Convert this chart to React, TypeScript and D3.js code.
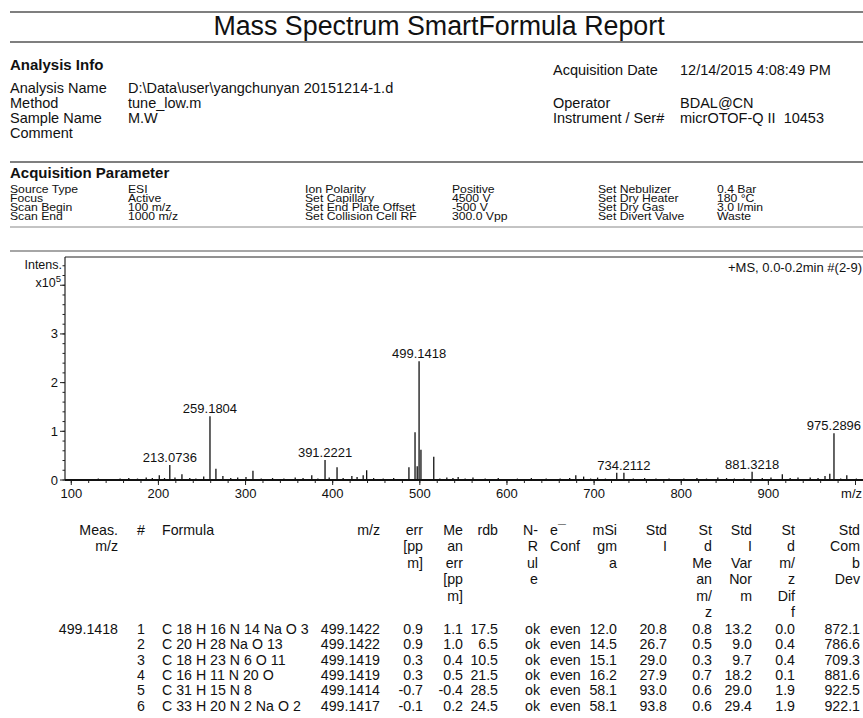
import React from "react";
import * as d3 from "d3";

// spectrum peaks (m/z, intensity in 1e5 counts)
const labelMz = [213.0736, 259.1804, 391.2221, 499.1418, 734.2112, 881.3218, 975.2896];
const labelInt = [0.31, 1.31, 0.41, 2.44, 0.15, 0.17, 0.96];

const otherMz = [201, 227, 252, 266, 274, 300.5, 308.5, 376, 405, 422, 435, 439, 487.5, 494.5, 497, 501.3, 516, 531, 544, 561, 679, 688, 704, 726, 842, 916, 965, 970.5, 990];
const otherInt = [0.1, 0.12, 0.07, 0.23, 0.08, 0.06, 0.19, 0.1, 0.26, 0.08, 0.1, 0.2, 0.26, 0.98, 0.28, 0.62, 0.48, 0.05, 0.06, 0.05, 0.1, 0.07, 0.05, 0.15, 0.05, 0.12, 0.08, 0.13, 0.1];

const noiseMz = [118, 131, 144, 156, 166, 176, 186, 193, 207, 219, 236, 243, 283, 291, 318, 331, 344, 357, 366, 383, 396, 412, 428, 447, 458, 470, 523, 538, 552, 575, 590, 612, 628, 645, 661, 672, 696, 713, 745, 758, 771, 786, 803, 818, 829, 852, 861, 872, 893, 903, 925, 934, 948, 957, 983, 1001];
const noiseInt = [0.02, 0.03, 0.02, 0.03, 0.04, 0.03, 0.05, 0.04, 0.04, 0.05, 0.04, 0.03, 0.04, 0.05, 0.03, 0.04, 0.03, 0.05, 0.04, 0.03, 0.05, 0.04, 0.06, 0.04, 0.03, 0.04, 0.03, 0.04, 0.03, 0.03, 0.04, 0.03, 0.04, 0.03, 0.03, 0.04, 0.03, 0.03, 0.03, 0.04, 0.03, 0.03, 0.03, 0.04, 0.03, 0.04, 0.03, 0.03, 0.04, 0.05, 0.04, 0.05, 0.05, 0.04, 0.03, 0.03];

const xTicks = [100, 200, 300, 400, 500, 600, 700, 800, 900];
const yTicks = [0, 1, 2, 3, 4];
const yLabels = ["0", "1", "2", "3"];

// header info
const infoLeftLabels = ["Analysis Name", "Method", "Sample Name", "Comment"];
const infoLeftValues = ["D:\\Data\\user\\yangchunyan 20151214-1.d", "tune_low.m", "M.W", ""];
const infoRightLabels = ["Acquisition Date", "Operator", "Instrument / Ser#"];
const infoRightValues = ["12/14/2015 4:08:49 PM", "BDAL@CN", "micrOTOF-Q II  10453"];

const acqCol1 = ["Source Type", "Focus", "Scan Begin", "Scan End"];
const acqVal1 = ["ESI", "Active", "100 m/z", "1000 m/z"];
const acqCol2 = ["Ion Polarity", "Set Capillary", "Set End Plate Offset", "Set Collision Cell RF"];
const acqVal2 = ["Positive", "4500 V", "-500 V", "300.0 Vpp"];
const acqCol3 = ["Set Nebulizer", "Set Dry Heater", "Set Dry Gas", "Set Divert Valve"];
const acqVal3 = ["0.4 Bar", "180 °C", "3.0 l/min", "Waste"];

// result table
const formulas = ["C 18 H 16 N 14 Na O 3", "C 20 H 28 Na O 13", "C 18 H 23 N 6 O 11", "C 16 H 11 N 20 O", "C 31 H 15 N 8", "C 33 H 20 N 2 Na O 2"];
const calcMz = ["499.1422", "499.1422", "499.1419", "499.1419", "499.1414", "499.1417"];
const errPpm = ["0.9", "0.9", "0.3", "0.3", "-0.7", "-0.1"];
const meanErr = ["1.1", "1.0", "0.4", "0.5", "-0.4", "0.2"];
const rdb = ["17.5", "6.5", "10.5", "21.5", "28.5", "24.5"];
const nRule = ["ok", "ok", "ok", "ok", "ok", "ok"];
const eConf = ["even", "even", "even", "even", "even", "even"];
const mSigma = ["12.0", "14.5", "15.1", "16.2", "58.1", "58.1"];
const stdI = ["20.8", "26.7", "29.0", "27.9", "93.0", "93.8"];
const stdMeanMz = ["0.8", "0.5", "0.3", "0.7", "0.6", "0.6"];
const stdVarNorm = ["13.2", "9.0", "9.7", "18.2", "29.0", "29.4"];
const stdMzDiff = ["0.0", "0.4", "0.4", "0.1", "1.9", "1.9"];
const stdCombDev = ["872.1", "786.6", "709.3", "881.6", "922.5", "922.1"];

const font = "Arial, 'Liberation Sans', sans-serif";

// text stretched horizontally, like the scanned report
const WideText = ({ x, y, size, sx = 1.15, anchor = "start", children }: any) => (
  <g transform={`translate(${x},${y}) scale(${sx},1)`}>
    <text fontSize={size} textAnchor={anchor}>{children}</text>
  </g>
);

const App = () => {
  const width = 863, height = 718;
  const x = d3.scaleLinear().domain([92.8, 1008.6]).range([65, 863]);
  const y = d3.scaleLinear().domain([0, 4.58]).range([480, 257]);

  const allMz = [...noiseMz, ...otherMz, ...labelMz];
  const allInt = [...noiseInt, ...otherInt, ...labelInt];
  const peaks = allMz.map((m, i) => ({ mz: m, int: allInt[i] }));

  const xMinor = d3.range(100, 1001, 20);
  const yMinor = d3.range(0, 4.5, 0.2);

  const tableHeaders = [
    { lines: ["Meas.", "m/z"], x: 118, a: "end" },
    { lines: ["#"], x: 141, a: "middle" },
    { lines: ["Formula"], x: 162, a: "start" },
    { lines: ["m/z"], x: 380, a: "end" },
    { lines: ["err", "[pp", "m]"], x: 423, a: "end" },
    { lines: ["Me", "an", "err", "[pp", "m]"], x: 463, a: "end" },
    { lines: ["rdb"], x: 498, a: "end" },
    { lines: ["N-", "R", "ul", "e"], x: 538, a: "end" },
    { lines: ["e\u00af", "Conf"], x: 550, a: "start" },
    { lines: ["mSi", "gm", "a"], x: 617, a: "end" },
    { lines: ["Std", "I"], x: 667, a: "end" },
    { lines: ["St", "d", "Me", "an", "m/", "z"], x: 712, a: "end" },
    { lines: ["Std", "I", "Var", "Nor", "m"], x: 752, a: "end" },
    { lines: ["St", "d", "m/", "z", "Dif", "f"], x: 795, a: "end" },
    { lines: ["Std", "Com", "b", "Dev"], x: 860, a: "end" },
  ];
  const tableCols = [
    { vals: formulas.map((_, i) => String(i + 1)), x: 141, a: "middle" },
    { vals: formulas, x: 162, a: "start" },
    { vals: calcMz, x: 380, a: "end" },
    { vals: errPpm, x: 423, a: "end" },
    { vals: meanErr, x: 463, a: "end" },
    { vals: rdb, x: 498, a: "end" },
    { vals: nRule, x: 540, a: "end" },
    { vals: eConf, x: 550, a: "start" },
    { vals: mSigma, x: 617, a: "end" },
    { vals: stdI, x: 667, a: "end" },
    { vals: stdMeanMz, x: 712, a: "end" },
    { vals: stdVarNorm, x: 752, a: "end" },
    { vals: stdMzDiff, x: 795, a: "end" },
    { vals: stdCombDev, x: 860, a: "end" },
  ];
  const headTop = 535, headStep = 16.4;
  const rowTop = 634, rowStep = 15.3;
  const acqTop = 192.5, acqStep = 9.2;

  return (
    <svg width={width} height={height} style={{ position: "absolute", left: 0, top: 0, background: "#fff" }} fontFamily={font} fill="#111">
      <rect width={width} height={height} fill="#fff" />
      {/* title */}
      <line x1={10} x2={863} y1={12} y2={12} stroke="#555" strokeWidth={1.5} />
      <text x={439} y={35} fontSize={26.8} textAnchor="middle">Mass Spectrum SmartFormula Report</text>
      <line x1={10} x2={863} y1={42} y2={42} stroke="#555" strokeWidth={1.5} />

      {/* analysis info */}
      <text x={10} y={70} fontSize={15} fontWeight="bold">Analysis Info</text>
      {infoLeftLabels.map((l, i) => (
        <g key={l} fontSize={14.5}>
          <text x={10} y={93 + i * 15}>{l}</text>
          <text x={128} y={93 + i * 15}>{infoLeftValues[i]}</text>
        </g>
      ))}
      {infoRightLabels.map((l, i) => {
        const yy = i === 0 ? 75 : 93 + i * 15;
        return (
          <g key={l} fontSize={14.5}>
            <text x={553} y={yy}>{l}</text>
            <text x={680} y={yy} style={{ whiteSpace: "pre" }}>{infoRightValues[i]}</text>
          </g>
        );
      })}
      <line x1={10} x2={863} y1={162} y2={162} stroke="#555" strokeWidth={1.5} />

      {/* acquisition parameter */}
      <text x={10} y={178} fontSize={15} fontWeight="bold">Acquisition Parameter</text>
      {acqCol1.map((l, i) => {
        const yy = acqTop + i * acqStep;
        return (
          <g key={l}>
            <WideText x={10} y={yy} size={10.6}>{l}</WideText>
            <WideText x={128} y={yy} size={10.6}>{acqVal1[i]}</WideText>
            <WideText x={305} y={yy} size={10.6}>{acqCol2[i]}</WideText>
            <WideText x={452} y={yy} size={10.6}>{acqVal2[i]}</WideText>
            <WideText x={598} y={yy} size={10.6}>{acqCol3[i]}</WideText>
            <WideText x={717} y={yy} size={10.6}>{acqVal3[i]}</WideText>
          </g>
        );
      })}
      <line x1={10} x2={863} y1={227} y2={227} stroke="#888" strokeWidth={1} />
      <line x1={10} x2={863} y1={251} y2={251} stroke="#888" strokeWidth={1.5} />

      {/* spectrum */}
      <line x1={65} x2={863} y1={y(4.58)} y2={y(4.58)} stroke="#222" strokeWidth={1} />
      <line x1={65} x2={65} y1={y(4.58)} y2={y(0)} stroke="#222" strokeWidth={1.2} />
      {yMinor.map((t) => (
        <line key={t} x1={62.5} x2={65} y1={y(t)} y2={y(t)} stroke="#222" />
      ))}
      {yTicks.map((t) => (
        <line key={t} x1={60} x2={65} y1={y(t)} y2={y(t)} stroke="#222" />
      ))}
      {yLabels.map((l, i) => (
        <text key={l} x={58} y={y(i) + 4.5} fontSize={13} textAnchor="end">{l}</text>
      ))}
      <text x={62} y={268.5} fontSize={12.5} textAnchor="end">Intens.</text>
      <text x={61} y={287} fontSize={12.5} textAnchor="end">x10<tspan dy={-5} fontSize={9.5}>5</tspan></text>
      <text x={862} y={272} fontSize={13} textAnchor="end">+MS, 0.0-0.2min #(2-9)</text>

      {xMinor.map((t) => (
        <line key={t} x1={x(t)} x2={x(t)} y1={y(0)} y2={y(0) + 3} stroke="#222" />
      ))}
      {xTicks.map((t) => (
        <g key={t}>
          <line x1={x(t)} x2={x(t)} y1={y(0)} y2={y(0) + 5} stroke="#222" />
          <text x={x(t)} y={y(0) + 18} fontSize={13} textAnchor="middle">{t}</text>
        </g>
      ))}
      <line x1={x(1000)} x2={x(1000)} y1={y(0)} y2={y(0) + 5} stroke="#222" />
      <text x={862} y={y(0) + 18} fontSize={13} textAnchor="end">m/z</text>

      {peaks.map((p, i) => (
        <line key={i} x1={x(p.mz)} x2={x(p.mz)} y1={y(0)} y2={y(p.int)} stroke="#111" strokeWidth={1.3} />
      ))}
      <line x1={65} x2={863} y1={y(0)} y2={y(0)} stroke="#111" strokeWidth={1.8} />
      {labelMz.map((m, i) => (
        <text key={m} x={x(m)} y={y(labelInt[i]) - 3} fontSize={13} textAnchor="middle">{m.toFixed(4)}</text>
      ))}

      {/* formula table */}
      {tableHeaders.map((h, i) => (
        <text key={i} x={h.x} fontSize={14.2} textAnchor={h.a}>
          {h.lines.map((l, j) => (
            <tspan key={j} x={h.x} y={headTop + j * headStep}>{l}</tspan>
          ))}
        </text>
      ))}
      <text x={118} y={rowTop} fontSize={14.2} textAnchor="end">499.1418</text>
      {tableCols.map((c, i) => (
        <g key={i} fontSize={14.2}>
          {c.vals.map((v, j) => (
            <text key={j} x={c.x} y={rowTop + j * rowStep} textAnchor={c.a}>{v}</text>
          ))}
        </g>
      ))}
    </svg>
  );
};

export default App;
